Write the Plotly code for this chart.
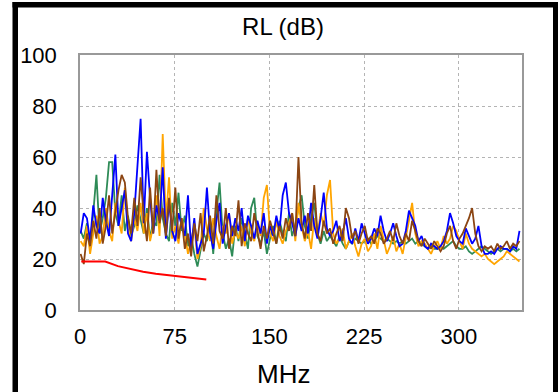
import plotly.graph_objects as go

# Frequency grid (MHz) for measured traces
freq = [0.5 + 2.5 * i for i in range(140)]

blue = [30, 38, 36, 27, 41, 33, 30, 44, 35, 29,
        45, 61, 33, 40, 47, 30, 27, 38, 55, 75,
        34, 62, 44, 30, 41, 35, 56, 28, 42, 31,
        27, 38, 33, 29, 45, 24, 36, 22, 26, 30,
        48, 30, 24, 35, 42, 26, 33, 38, 29, 36,
        31, 40, 27, 37, 33, 28, 35, 30, 38, 26,
        33, 29, 37, 31, 45, 50, 38, 34, 29, 36,
        31, 37, 30, 42, 33, 28, 36, 46, 32, 29,
        31, 35, 27, 30, 36, 28, 26, 32, 27, 34,
        30, 26, 28, 32, 29, 37, 31, 27, 30, 34,
        29, 25, 26, 31, 39, 36, 33, 27, 29, 25,
        24, 26, 25, 24, 25, 27, 31, 38, 34, 29,
        27, 26, 32, 29, 26, 28, 33, 25, 22, 22,
        23, 22, 24, 25, 24, 24, 23, 25, 24, 31]

orange = [27, 25, 33, 22, 30, 37, 26, 29, 40, 31,
          27, 42, 35, 30, 48, 32, 27, 36, 31, 42,
          30, 38, 27, 33, 45, 29, 69, 35, 52, 28,
          33, 26, 36, 30, 22, 27, 33, 20, 25, 40,
          32, 27, 36, 29, 24, 33, 30, 38, 26, 31,
          28, 33, 25, 36, 30, 27, 34, 29, 44, 49,
          30, 27, 35, 29, 26, 31, 34, 38, 27, 42,
          33, 27, 31, 24, 36, 29, 38, 33, 45, 51,
          30, 26, 28, 32, 24, 27, 30, 25, 21, 26,
          28, 23, 25, 30, 24, 33, 27, 22, 25, 29,
          23, 26, 22, 28, 35, 42, 30, 25, 27, 26,
          24, 22, 25, 27, 24, 29, 26, 28, 33, 31,
          27, 24, 30, 26, 24, 23, 22, 21, 22, 20,
          19, 18, 19, 20, 21, 23, 22, 21, 20, 19]

green = [31, 28, 34, 26, 38, 53, 30, 36, 44, 58,
         58, 38, 33, 45, 31, 37, 29, 33, 41, 36,
         30, 40, 28, 35, 33, 53, 36, 30, 27, 42,
         33, 46, 31, 37, 25, 29, 22, 17, 24, 30,
         27, 35, 22, 38, 50, 30, 24, 28, 21, 33,
         27, 36, 30, 24, 40, 44, 29, 26, 31, 22,
         28, 33, 26, 35, 30, 27, 38, 29, 33, 40,
         45, 33, 28, 36, 42, 30, 26, 31, 27, 29,
         27, 25, 29, 26, 24, 27, 26, 28, 27, 26,
         27, 28, 26, 27, 29, 28, 27, 28, 27, 26,
         27, 26, 27, 26, 27, 28, 26, 27, 26, 25,
         24, 25, 24, 24, 25, 24, 25, 26, 27, 25,
         24, 24, 25, 23, 22, 23, 24, 25, 24, 23,
         22, 23, 24, 23, 24, 24, 23, 24, 23, 24]

brown = [22, 18, 30, 25, 35, 28, 40, 26, 33, 45,
         30, 39, 47, 53, 50, 36, 30, 44, 33, 52,
         37, 27, 48, 30, 55, 34, 40, 29, 44, 31,
         48, 28, 36, 24, 30, 21, 34, 27, 38, 23,
         29, 37, 26, 45, 31, 28, 40, 24, 33, 29,
         43, 25, 34, 30, 27, 38, 31, 24, 33, 28,
         35, 30, 26, 33, 28, 36, 31, 38, 29, 60,
         34, 28, 38, 31, 49, 30, 27, 35, 30, 32,
         26, 30, 33, 27, 40, 36, 28, 31, 26, 30,
         33, 27, 29, 26, 32, 30, 26, 28, 31, 27,
         34, 29, 26, 30, 27, 35, 31, 27, 25, 28,
         26, 24, 27, 25, 23, 25, 30, 33, 27, 24,
         28, 30, 33, 36, 40, 30, 25, 23, 25, 24,
         25, 23, 26, 24, 25, 27, 24, 26, 25, 27]

# Limit line
limit_freq = [1, 20, 30, 40, 50, 60, 70, 80, 90, 100]
limit_val = [19, 19, 17.2, 16.0, 15.0, 14.2, 13.6, 13.0, 12.5, 12.0]

x_ticks = [0, 75, 150, 225, 300]
y_ticks = [0, 20, 40, 60, 80, 100]

FONT = "Arial, Liberation Sans, sans-serif"

fig = go.Figure()
series = [(green, "#2e8b57"), (orange, "#ffa500"), (blue, "#0000ff"), (brown, "#8b4513")]
for vals, col in series:
    fig.add_trace(go.Scatter(x=freq, y=vals, mode="lines",
                             line=dict(color=col, width=1.8), showlegend=False))
fig.add_trace(go.Scatter(x=limit_freq, y=limit_val, mode="lines",
                         line=dict(color="#ff0000", width=2), showlegend=False))

W, H = 558, 392
L, R, T, B = 80, 36, 55, 82
pw, ph = W - L - R, H - T - B

def px(x):
    return (x - L) / pw

def py(y):
    return (H - B - y) / ph

fig.update_layout(
    width=W, height=H,
    margin=dict(l=L, r=R, t=T, b=B),
    paper_bgcolor="white", plot_bgcolor="white",
    font=dict(family=FONT, color="black"),
    title=dict(text="RL (dB)", x=283 / W, xanchor="center", y=1 - 27 / H, yanchor="middle",
               font=dict(size=24, family=FONT, color="black")),
    xaxis=dict(range=[0, 350], tickvals=x_ticks, ticktext=[str(v) for v in x_ticks],
               showgrid=True, gridcolor="#b4b4b4", griddash="dot", gridwidth=1,
               showline=True, linecolor="#999999", linewidth=1.5, mirror=True,
               zeroline=False, ticks="", tickfont=dict(size=22, family=FONT, color="black"),
               ticklabelstandoff=6),
    yaxis=dict(range=[0, 100], tickvals=y_ticks, ticktext=[str(v) for v in y_ticks],
               showgrid=True, gridcolor="#b4b4b4", griddash="dot", gridwidth=1,
               showline=True, linecolor="#999999", linewidth=1.5, mirror=True,
               zeroline=False, ticks="", tickfont=dict(size=22, family=FONT, color="black"),
               ticklabelstandoff=17),
    annotations=[dict(text="MHz", xref="paper", yref="paper", x=px(283), y=py(374),
                      xanchor="center", yanchor="middle", showarrow=False,
                      font=dict(size=26, family=FONT, color="black"))],
    shapes=[
        dict(type="rect", xref="paper", yref="paper", x0=px(12.5), x1=px(18), y0=py(400), y1=py(2),
             fillcolor="black", line=dict(width=0), layer="above"),
        dict(type="rect", xref="paper", yref="paper", x0=px(12.5), x1=px(558), y0=py(7.5), y1=py(2),
             fillcolor="black", line=dict(width=0), layer="above"),
        dict(type="rect", xref="paper", yref="paper", x0=px(553), x1=px(560), y0=py(400), y1=py(2),
             fillcolor="black", line=dict(width=0), layer="above"),
    ],
)

fig.write_html("out.html", config={"displayModeBar": False},
               post_script="document.body.style.margin='0px';document.body.style.padding='0px';")
